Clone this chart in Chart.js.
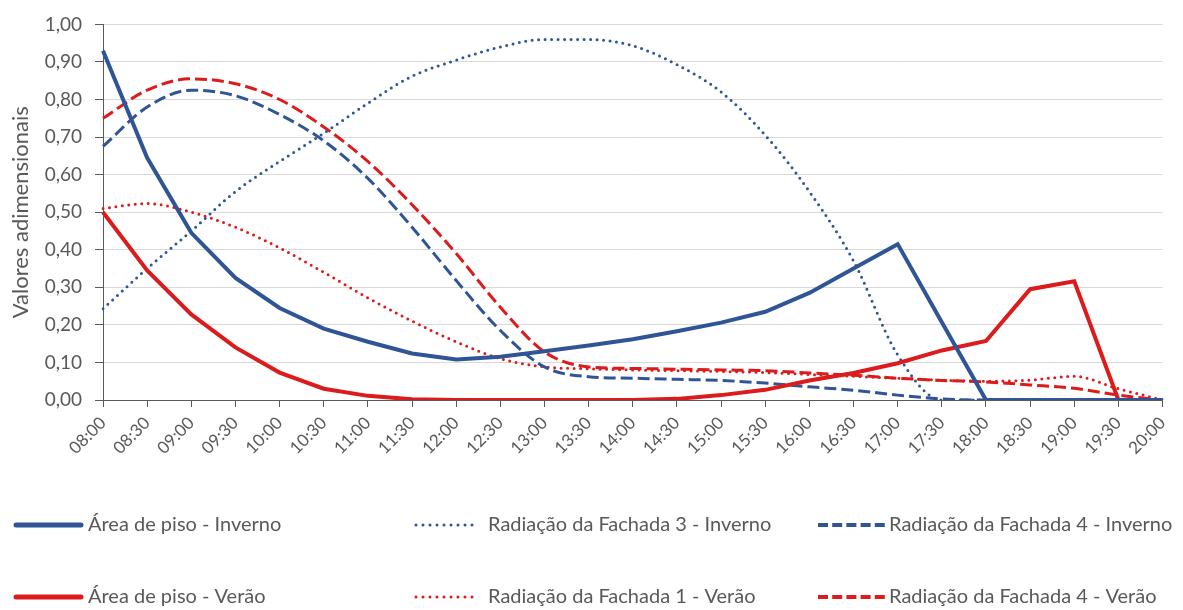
<!DOCTYPE html>
<html lang="pt-BR">
<head>
<meta charset="utf-8">
<script src="https://cdn.jsdelivr.net/npm/chart.js@4.4.1/dist/chart.umd.min.js"></script>
<style>
html, body { margin: 0; padding: 0; background: #fff; }
#wrap { width: 1183px; height: 610px; position: relative; }
</style>
</head>
<body>
<div id="wrap"><canvas id="grafico"></canvas></div>
<script>
const horarios = ['08:00', '08:30', '09:00', '09:30', '10:00', '10:30', '11:00', '11:30', '12:00',
    '12:30', '13:00', '13:30', '14:00', '14:30', '15:00', '15:30', '16:00', '16:30', '17:00',
    '17:30', '18:00', '18:30', '19:00', '19:30', '20:00'];

const areaPisoInverno = [0.93, 0.645, 0.445, 0.325, 0.245, 0.19, 0.155, 0.124, 0.108, 0.115, 0.13, 0.145,
    0.162, 0.183, 0.206, 0.235, 0.285, 0.35, 0.415, 0.207, 0, 0, 0, 0, 0];
const fachada3Inverno = [0.243, 0.35, 0.45, 0.555, 0.635, 0.71, 0.79, 0.862, 0.905, 0.94, 0.96, 0.96,
    0.943, 0.893, 0.82, 0.705, 0.555, 0.37, 0.12, 0, 0, 0, 0, 0, 0];
const fachada4Inverno = [0.675, 0.78, 0.825, 0.81, 0.76, 0.69, 0.59, 0.46, 0.318, 0.185, 0.088, 0.062,
    0.058, 0.055, 0.052, 0.045, 0.035, 0.026, 0.013, 0.003, 0, 0, 0, 0, 0];
const areaPisoVerao = [0.50, 0.345, 0.228, 0.14, 0.073, 0.03, 0.011, 0.002, 0, 0, 0, 0,
    0, 0.003, 0.013, 0.027, 0.052, 0.072, 0.098, 0.132, 0.157, 0.295, 0.316, 0, 0];
const fachada1Verao = [0.51, 0.523, 0.50, 0.46, 0.405, 0.34, 0.272, 0.21, 0.155, 0.11, 0.088, 0.083,
    0.08, 0.078, 0.076, 0.073, 0.068, 0.063, 0.058, 0.053, 0.05, 0.053, 0.063, 0.03, 0];
const fachada4Verao = [0.75, 0.825, 0.855, 0.842, 0.80, 0.727, 0.635, 0.52, 0.39, 0.247, 0.128, 0.088,
    0.084, 0.082, 0.08, 0.078, 0.072, 0.066, 0.058, 0.052, 0.048, 0.04, 0.031, 0.013, 0];

const AZUL = '#2f5597';
const VERMELHO = '#dc1c1c';
const CINZA = '#595959';
const FONTE = 'Lato';

function serie(label, data, cor, estilo) {
    const ds = {
        label: label,
        data: data,
        borderColor: cor,
        backgroundColor: cor,
        pointRadius: 0,
        fill: false,
        estilo: estilo
    };
    if (estilo === 'solida') {
        ds.borderWidth = 4;
        ds.tension = 0;
        ds.order = 0;
    } else if (estilo === 'pontilhada') {
        ds.borderWidth = 3;
        ds.borderDash = [0, 6.5];
        ds.borderCapStyle = 'round';
        ds.cubicInterpolationMode = 'monotone';
        ds.order = 1;
    } else {
        ds.borderWidth = 3;
        ds.borderDash = [12, 5];
        ds.cubicInterpolationMode = 'monotone';
        ds.order = 1;
    }
    return ds;
}

// legenda em grade 3x2 abaixo do gráfico
const legendaGrade = {
    id: 'legendaGrade',
    afterDraw(chart) {
        const ctx = chart.ctx;
        const colunas = [
            { x0: 16, x1: 81, tx: 88 },
            { x0: 416, x1: 477, tx: 488 },
            { x0: 818, x1: 885, tx: 889 }
        ];
        const linhas = [525, 597];
        chart.data.datasets.forEach((ds, i) => {
            const col = colunas[i % 3];
            const y = linhas[Math.floor(i / 3)];
            ctx.save();
            ctx.strokeStyle = ds.borderColor;
            if (ds.estilo === 'solida') {
                ctx.lineWidth = 5;
                ctx.lineCap = 'round';
            } else if (ds.estilo === 'pontilhada') {
                ctx.lineWidth = 3;
                ctx.lineCap = 'round';
                ctx.setLineDash([0, 7]);
            } else {
                ctx.lineWidth = 4;
                ctx.setLineDash([10, 4.2]);
            }
            ctx.beginPath();
            ctx.moveTo(col.x0, y);
            ctx.lineTo(col.x1, y);
            ctx.stroke();
            ctx.setLineDash([]);
            ctx.fillStyle = CINZA;
            ctx.font = '20px ' + FONTE;
            ctx.textBaseline = 'middle';
            ctx.fillText(ds.label, col.tx, y);
            ctx.restore();
        });
    }
};

const ctx = document.getElementById('grafico').getContext('2d');

new Chart(ctx, {
    type: 'line',
    data: {
        labels: horarios,
        datasets: [
            serie('Área de piso - Inverno', areaPisoInverno, AZUL, 'solida'),
            serie('Radiação da Fachada 3 - Inverno', fachada3Inverno, AZUL, 'pontilhada'),
            serie('Radiação da Fachada 4 - Inverno', fachada4Inverno, AZUL, 'tracejada'),
            serie('Área de piso - Verão', areaPisoVerao, VERMELHO, 'solida'),
            serie('Radiação da Fachada 1 - Verão', fachada1Verao, VERMELHO, 'pontilhada'),
            serie('Radiação da Fachada 4 - Verão', fachada4Verao, VERMELHO, 'tracejada')
        ]
    },
    options: {
        responsive: true,
        maintainAspectRatio: false,
        animation: false,
        layout: {
            padding: { left: 6, right: 13, top: 22, bottom: 0 }
        },
        plugins: {
            legend: { display: false },
            tooltip: { enabled: false }
        },
        scales: {
            x: {
                offset: false,
                grid: {
                    drawOnChartArea: false,
                    drawTicks: true,
                    tickLength: 7,
                    tickColor: CINZA
                },
                border: { color: CINZA, width: 1 },
                ticks: {
                    autoSkip: false,
                    minRotation: 45,
                    maxRotation: 45,
                    padding: 6,
                    color: CINZA,
                    font: { family: FONTE, size: 17 }
                },
                afterFit(scale) {
                    scale.height = 210;
                }
            },
            y: {
                min: 0,
                max: 1,
                grid: {
                    color: '#d9d9d9',
                    tickColor: CINZA,
                    tickLength: 8
                },
                border: { color: CINZA, width: 1 },
                ticks: {
                    stepSize: 0.1,
                    color: CINZA,
                    padding: 13,
                    font: { family: FONTE, size: 19 },
                    callback: function(value) {
                        return value.toFixed(2).replace('.', ',');
                    }
                },
                title: {
                    display: true,
                    text: 'Valores adimensionais',
                    color: CINZA,
                    font: { family: FONTE, size: 22 },
                    padding: 2
                },
                afterFit(scale) {
                    scale.width = 97;
                }
            }
        }
    },
    plugins: [legendaGrade]
});
</script>
</body>
</html>
